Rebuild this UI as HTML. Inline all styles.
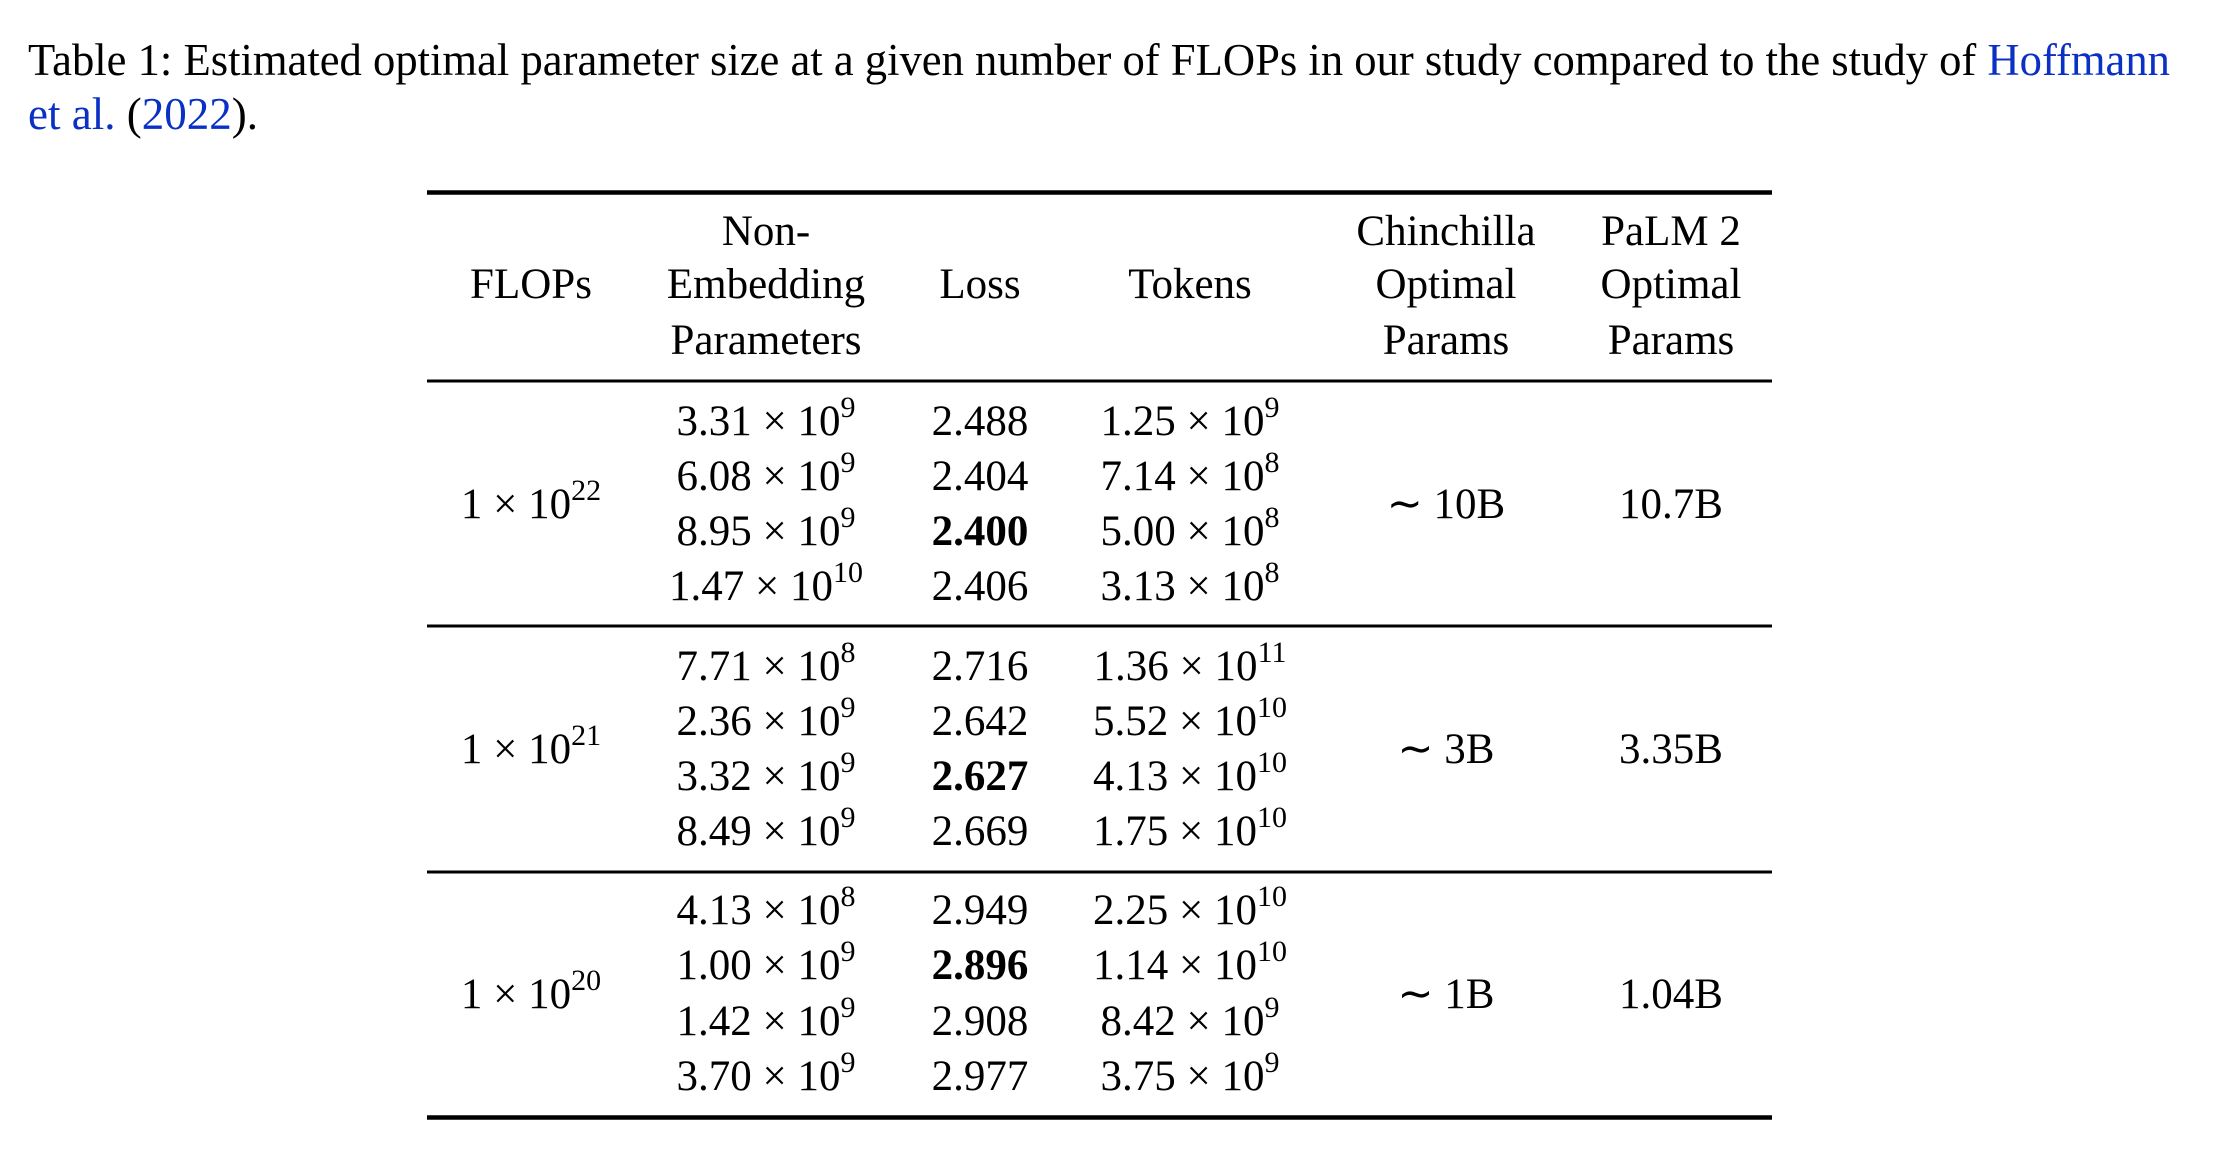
<!DOCTYPE html>
<html><head><meta charset="utf-8"><style>
html,body{margin:0;padding:0;background:#fff;}
svg{display:block;}
text{font-family:"Liberation Serif","Times New Roman",serif;fill:#000;}
</style></head><body>
<svg width="2234" height="1166" viewBox="0 0 2234 1166" xmlns="http://www.w3.org/2000/svg">
<g font-size="45">
<text x="28" y="75" textLength="2142" lengthAdjust="spacingAndGlyphs">Table 1: Estimated optimal parameter size at a given number of FLOPs in our study compared to the study of <tspan fill="#0a30c4">Hoffmann</tspan></text>
<text x="28" y="129"><tspan fill="#0a30c4">et al.</tspan> (<tspan fill="#0a30c4">2022</tspan>).</text>
</g>
<g stroke="#000">
<line x1="427" y1="192.5" x2="1772" y2="192.5" stroke-width="4.5"/>
<line x1="427" y1="381" x2="1772" y2="381" stroke-width="3"/>
<line x1="427" y1="626" x2="1772" y2="626" stroke-width="3"/>
<line x1="427" y1="872" x2="1772" y2="872" stroke-width="3"/>
<line x1="427" y1="1117.5" x2="1772" y2="1117.5" stroke-width="4.5"/>
</g>
<g font-size="43" text-anchor="middle">
<text x="531" y="298">FLOPs</text>
<text x="766" y="245">Non-</text>
<text x="766" y="298">Embedding</text>
<text x="766" y="354">Parameters</text>
<text x="980" y="298">Loss</text>
<text x="1190" y="298">Tokens</text>
<text x="1446" y="245">Chinchilla</text>
<text x="1446" y="298">Optimal</text>
<text x="1446" y="354">Params</text>
<text x="1671" y="245">PaLM 2</text>
<text x="1671" y="298">Optimal</text>
<text x="1671" y="354">Params</text>

<!-- group 1 -->
<text x="531" y="518">1 × 10<tspan dy="-18" font-size="30">22</tspan></text>
<text x="1446" y="518">∼ 10B</text>
<text x="1671" y="518">10.7B</text>
<text x="766" y="435">3.31 × 10<tspan dy="-18" font-size="30">9</tspan></text>
<text x="766" y="490">6.08 × 10<tspan dy="-18" font-size="30">9</tspan></text>
<text x="766" y="545">8.95 × 10<tspan dy="-18" font-size="30">9</tspan></text>
<text x="766" y="600">1.47 × 10<tspan dy="-18" font-size="30">10</tspan></text>
<text x="980" y="435">2.488</text>
<text x="980" y="490">2.404</text>
<text x="980" y="545" font-weight="bold">2.400</text>
<text x="980" y="600">2.406</text>
<text x="1190" y="435">1.25 × 10<tspan dy="-18" font-size="30">9</tspan></text>
<text x="1190" y="490">7.14 × 10<tspan dy="-18" font-size="30">8</tspan></text>
<text x="1190" y="545">5.00 × 10<tspan dy="-18" font-size="30">8</tspan></text>
<text x="1190" y="600">3.13 × 10<tspan dy="-18" font-size="30">8</tspan></text>

<!-- group 2 -->
<text x="531" y="763">1 × 10<tspan dy="-18" font-size="30">21</tspan></text>
<text x="1446" y="763">∼ 3B</text>
<text x="1671" y="763">3.35B</text>
<text x="766" y="680">7.71 × 10<tspan dy="-18" font-size="30">8</tspan></text>
<text x="766" y="735">2.36 × 10<tspan dy="-18" font-size="30">9</tspan></text>
<text x="766" y="790">3.32 × 10<tspan dy="-18" font-size="30">9</tspan></text>
<text x="766" y="845">8.49 × 10<tspan dy="-18" font-size="30">9</tspan></text>
<text x="980" y="680">2.716</text>
<text x="980" y="735">2.642</text>
<text x="980" y="790" font-weight="bold">2.627</text>
<text x="980" y="845">2.669</text>
<text x="1190" y="680">1.36 × 10<tspan dy="-18" font-size="30">11</tspan></text>
<text x="1190" y="735">5.52 × 10<tspan dy="-18" font-size="30">10</tspan></text>
<text x="1190" y="790">4.13 × 10<tspan dy="-18" font-size="30">10</tspan></text>
<text x="1190" y="845">1.75 × 10<tspan dy="-18" font-size="30">10</tspan></text>

<!-- group 3 -->
<text x="531" y="1008">1 × 10<tspan dy="-18" font-size="30">20</tspan></text>
<text x="1446" y="1008">∼ 1B</text>
<text x="1671" y="1008">1.04B</text>
<text x="766" y="924">4.13 × 10<tspan dy="-18" font-size="30">8</tspan></text>
<text x="766" y="979">1.00 × 10<tspan dy="-18" font-size="30">9</tspan></text>
<text x="766" y="1035">1.42 × 10<tspan dy="-18" font-size="30">9</tspan></text>
<text x="766" y="1090">3.70 × 10<tspan dy="-18" font-size="30">9</tspan></text>
<text x="980" y="924">2.949</text>
<text x="980" y="979" font-weight="bold">2.896</text>
<text x="980" y="1035">2.908</text>
<text x="980" y="1090">2.977</text>
<text x="1190" y="924">2.25 × 10<tspan dy="-18" font-size="30">10</tspan></text>
<text x="1190" y="979">1.14 × 10<tspan dy="-18" font-size="30">10</tspan></text>
<text x="1190" y="1035">8.42 × 10<tspan dy="-18" font-size="30">9</tspan></text>
<text x="1190" y="1090">3.75 × 10<tspan dy="-18" font-size="30">9</tspan></text>
</g>
</svg>
</body></html>
